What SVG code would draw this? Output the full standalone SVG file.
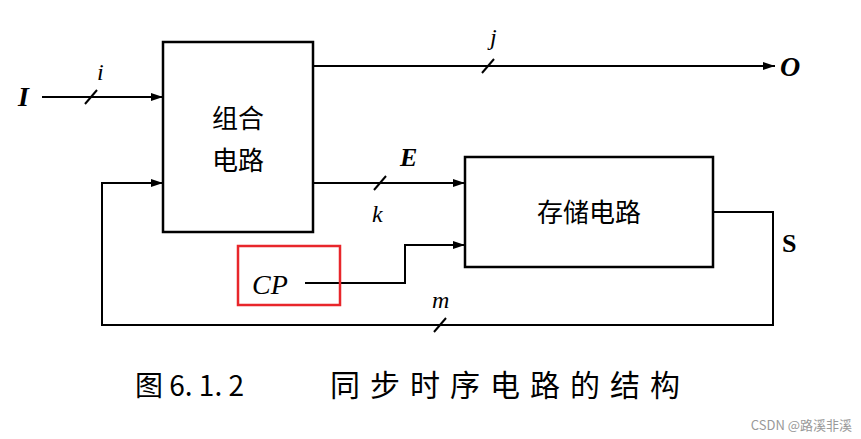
<svg xmlns="http://www.w3.org/2000/svg" width="861" height="439" viewBox="0 0 861 439">
<defs>
<marker id="a" markerWidth="12" markerHeight="8" refX="12" refY="4" orient="auto" markerUnits="userSpaceOnUse"><path d="M0,0 L12,4 L0,8 Z" fill="#000"/></marker>
<style>
.l{stroke:#000;stroke-width:2;fill:none}
.b{stroke:#000;stroke-width:2.5;fill:#fff}
.t{font-family:"Liberation Serif","Noto Sans CJK SC",serif;fill:#000}
.c{font-family:"Noto Sans CJK SC",sans-serif;fill:#000}
</style>
</defs>
<rect width="861" height="439" fill="#fff"/>
<g id="connectors">
<line class="l" x1="42" y1="97" x2="163" y2="97" marker-end="url(#a)"/>
<line class="l" x1="313" y1="66" x2="775" y2="66" marker-end="url(#a)"/>
<line class="l" x1="313" y1="183" x2="465" y2="183" marker-end="url(#a)"/>
<polyline class="l" points="305,283 405,283 405,245 465,245" marker-end="url(#a)"/>
<polyline class="l" points="713,212 773,212 773,325 102,325 102,183 163,183" marker-end="url(#a)"/>
<g class="l"><line x1="85" y1="104" x2="97" y2="90"/><line x1="482" y1="73" x2="494" y2="59"/><line x1="374" y1="190" x2="386" y2="176"/><line x1="434" y1="332" x2="446" y2="318"/></g>
</g>
<g id="comb"><rect class="b" x="163" y="42" width="150" height="190"/><text class="c" x="238" y="128" font-size="26" text-anchor="middle">组合</text><text class="c" x="238" y="170" font-size="26" text-anchor="middle">电路</text></g>
<g id="store"><rect class="b" x="465" y="157" width="248" height="110"/><text class="c" x="589" y="222" font-size="26" text-anchor="middle">存储电路</text></g>
<g id="labels">
<text class="t" x="18" y="106" font-size="28" font-weight="bold" font-style="italic">I</text>
<text class="t" x="97" y="80" font-size="24" font-style="italic">i</text>
<text class="t" x="490" y="45" font-size="24" font-style="italic">j</text>
<text class="t" x="780" y="76" font-size="28" font-weight="bold" font-style="italic">O</text>
<text class="t" x="400" y="166" font-size="26" font-weight="bold" font-style="italic">E</text>
<text class="t" x="372" y="222" font-size="24" font-style="italic">k</text>
<text class="t" x="252" y="294" font-size="28" font-style="italic">CP</text>
<text class="t" x="782" y="252" font-size="26" font-weight="bold">S</text>
<text class="t" x="432" y="308" font-size="24" font-style="italic">m</text>
<rect x="238" y="246" width="102" height="59" fill="none" stroke="#e8262b" stroke-width="2.5"/>
<text class="c" x="135" y="396" font-size="28" fill="#222">图 6. 1. 2</text>
<text class="c" x="330" y="396" font-size="30" letter-spacing="10" fill="#222">同步时序电路的结构</text>
<text font-family="Noto Sans CJK SC,sans-serif" x="852" y="430" font-size="13" fill="#999" text-anchor="end">CSDN @路溪非溪</text>
</g>
</svg>
